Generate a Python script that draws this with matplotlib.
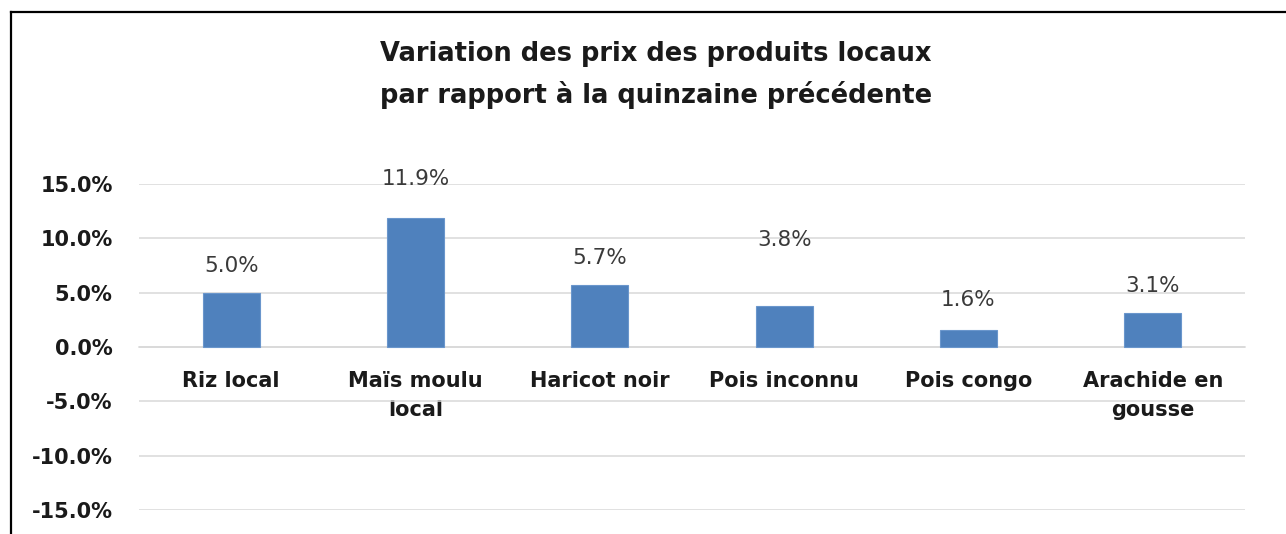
import matplotlib
matplotlib.use("Agg")
import matplotlib.pyplot as plt
from matplotlib.lines import Line2D

# Data
categories = ["Riz local", "Maïs moulu\nlocal", "Haricot noir", "Pois inconnu",
              "Pois congo", "Arachide en\ngousse"]
variation = [5.0, 11.9, 5.7, 3.8, 1.6, 3.1]
y_ticks = [-15, -10, -5, 0, 5, 10, 15]

# label offsets above bar tops (points), labels were nudged by hand in the original
label_offsets = [19, 28, 19.5, 47, 21.5, 19.5]

plt.rcParams['font.family'] = ['DejaVu Sans']

fig = plt.figure(figsize=(12.86, 5.34), dpi=100)
ax = fig.add_axes([139 / 1286, 24 / 534, 1106 / 1286, 326 / 534])

x = range(len(categories))
ax.bar(x, variation, width=0.31, color="#4f81bd", edgecolor="#6a96cc",
       linewidth=0.8, zorder=3)

for i, v in enumerate(variation):
    ax.annotate(f"{v:.1f}%", (i, v), xytext=(0, label_offsets[i]),
                textcoords="offset points", ha="center", va="center",
                fontsize=15.5, color="#3a3a3a")

ax.set_xlim(-0.5, len(categories) - 0.5)
ax.set_ylim(-15, 15)
ax.set_yticks(y_ticks)
ax.set_yticklabels([f"{t:.1f}%" for t in y_ticks], fontsize=15,
                   fontweight="bold", color="#1a1a1a")
ax.yaxis.grid(True, color="#d9d9d9", linewidth=1.1, zorder=0)
ax.tick_params(axis="y", length=0, pad=19)

# category axis crosses at zero
ax.spines["bottom"].set_position(("data", 0))
ax.spines["bottom"].set_color("#d9d9d9")
ax.spines["bottom"].set_linewidth(1.1)
for s in ["top", "right", "left"]:
    ax.spines[s].set_visible(False)
ax.set_xticks(list(x))
ax.set_xticklabels(categories, fontsize=15, fontweight="bold",
                   color="#1a1a1a", linespacing=1.6)
ax.tick_params(axis="x", length=0, pad=17)

fig.text(0.51, 1 - 75 / 534,
         "Variation des prix des produits locaux\npar rapport à la quinzaine précédente",
         ha="center", va="center", fontsize=18.5, fontweight="bold",
         linespacing=1.6, color="#1a1a1a")

# chart frame (only left and top edges are visible in the crop)
fx = 11 / 1286
fy = 1 - 12 / 534
fig.add_artist(Line2D([fx, fx], [0, fy], color="black", linewidth=1.6))
fig.add_artist(Line2D([fx, 1], [fy, fy], color="black", linewidth=1.6))

fig.savefig("out.png", dpi=100)
